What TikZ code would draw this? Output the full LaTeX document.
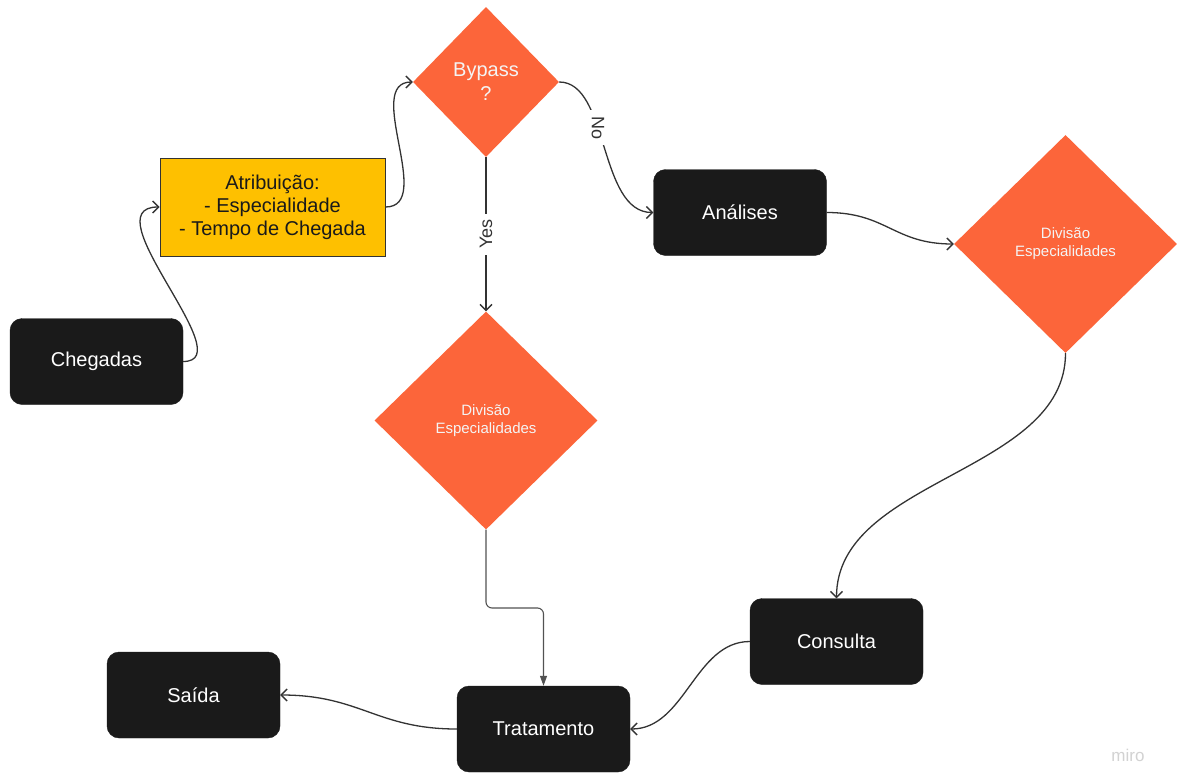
\documentclass[tikz,border=0pt]{standalone}
\usepackage{fontspec}
\setmainfont{Liberation Sans}
\usetikzlibrary{shapes.geometric,arrows.meta}
\definecolor{boxblack}{HTML}{1A1A1A}
\definecolor{diaorange}{RGB}{252,101,58}
\definecolor{attryellow}{RGB}{254,192,0}
\definecolor{linegray}{HTML}{333333}
\definecolor{softwhite}{HTML}{F4F4F4}

\begin{document}
\begin{tikzpicture}[x=1pt,y=-1pt,
  blackbox/.style={rectangle, rounded corners=12pt, fill=boxblack, draw=boxblack,
    minimum width=173pt, minimum height=86pt, inner sep=0pt,
    text=white, font=\fontsize{20}{24}\selectfont},
  attrbox/.style={rectangle, fill=attryellow, draw=linegray, line width=1pt,
    minimum width=225pt, minimum height=98pt, inner sep=0pt, align=center,
    text=boxblack, font=\fontsize{20}{23}\selectfont},
  decision/.style={diamond, fill=diaorange, inner sep=0pt, align=center,
    minimum width=146pt, minimum height=150pt,
    text=softwhite, font=\fontsize{20}{24}\selectfont},
  bigdecision/.style={diamond, fill=diaorange, inner sep=0pt, align=center,
    minimum width=223pt, minimum height=218pt,
    text=softwhite, font=\fontsize{15}{18}\selectfont},
  conn/.style={draw=linegray, line width=1.3pt,
    -{Straight Barb[length=6pt,width=12pt,line width=1.3pt]}},
  elbowconn/.style={draw=linegray!85!white, line width=1.1pt, rounded corners=6pt,
    -{Triangle[length=10pt,width=7pt]}},
  edgelabel/.style={fill=white, inner sep=6pt, text=linegray,
    font=\fontsize{18}{18}\selectfont}]

\useasboundingbox (0,0) rectangle (1177,776);
\fill[white] (0,0) rectangle (1177,776);

% nodes
\node[blackbox] (cheg) at (96.5,361.5) {Chegadas};
\node[attrbox] (attr) at (272.5,207) {Atribuição:\\- Especialidade\\- Tempo de Chegada};
\node[decision] (bypass) at (486,82) {Bypass\\?};
\node[blackbox] (anal) at (740,212.5) {Análises};
\node[bigdecision] (divR) at (1065.5,244) {Divisão\\Especialidades};
\node[bigdecision] (divM) at (486,420.5) {Divisão\\Especialidades};
\node[blackbox] (cons) at (836.5,641.5) {Consulta};
\node[blackbox] (trat) at (543.5,729) {Tratamento};
\node[blackbox] (said) at (193.5,695) {Saída};
\node[text=gray!35, font=\fontsize{17}{17}\selectfont] (logo) at (1128,755) {miro};

% connectors
\draw[conn] (cheg.east) .. controls +(60,0) and +(-70,0) .. (attr.west);
\draw[conn] (attr.east) .. controls +(50,0) and +(-50,0) .. (bypass.west);
\draw[conn] (bypass.east) .. controls +(50,0) and +(-55,0) .. (anal.west)
  node[edgelabel, pos=0.4, rotate=-90] {No};
\draw[conn] (bypass.south) -- (divM.north)
  node[edgelabel, pos=0.5, rotate=90] {Yes};
\draw[conn] (anal.east) .. controls +(60,0) and +(-60,0) .. (divR.west);
\draw[conn] (divR.south) .. controls +(0,120) and +(0,-120) .. (cons.north);
\coordinate (elbow) at (543.5,608);
\draw[elbowconn] (divM.south) |- (elbow) -- (trat.north);
\draw[conn] (cons.west) .. controls +(-55,0) and +(55,0) .. (trat.east);
\draw[conn] (trat.west) .. controls +(-80,0) and +(80,0) .. (said.east);

\end{tikzpicture}
\end{document}
